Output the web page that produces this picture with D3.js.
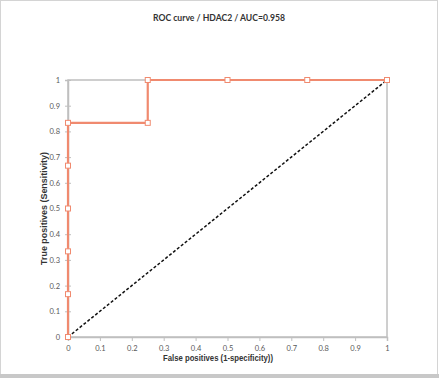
<!DOCTYPE html>
<html><head><meta charset="utf-8">
<script src="https://cdn.jsdelivr.net/npm/d3@7"></script>
<style>body{margin:0;background:#fff}svg{display:block}</style>
</head><body>
<svg id="c" width="439" height="378"></svg>
<script>
const fpr = [0, 0, 0, 0, 0, 0, 0.25, 0.25, 0.5, 0.75, 1];
const tpr = [0, 0.1667, 0.3333, 0.5, 0.6667, 0.8333, 0.8333, 1, 1, 1, 1];
const diagX = [0, 1];
const diagY = [0, 1];
const xTicks = [0, 0.1, 0.2, 0.3, 0.4, 0.5, 0.6, 0.7, 0.8, 0.9, 1];
const yTicks = [0, 0.1, 0.2, 0.3, 0.4, 0.5, 0.6, 0.7, 0.8, 0.9, 1];
const title = "ROC curve / HDAC2 / AUC=0.958";
const xTitle = "False positives (1-specificity))";
const yTitle = "True positives  (Sensitivity)";

const svg = d3.select("#c");
svg.append("rect").attr("x",0.5).attr("y",0.5).attr("width",437).attr("height",374)
  .attr("fill","#fff").attr("stroke","#d4d4d4");
svg.append("rect").attr("x",0).attr("y",374).attr("width",439).attr("height",4).attr("fill","#c8c8c8");

const L=68, R=387, T=80, B=337;
const x = d3.scaleLinear().domain([0,1]).range([L,R]);
const y = d3.scaleLinear().domain([0,1]).range([B,T]);
const fmt = d => d===0?"0":(d===1?"1":d3.format(".1f")(d));

svg.append("rect").attr("x",L).attr("y",T).attr("width",R-L).attr("height",B-T)
  .attr("fill","none").attr("stroke","#bfbfbf").attr("stroke-width",1.5);

const xa = svg.append("g").attr("transform",`translate(0,${B})`)
  .call(d3.axisBottom(x).tickValues(xTicks).tickFormat(fmt).tickSize(4).tickPadding(5));
const ya = svg.append("g").attr("transform",`translate(${L},0)`)
  .call(d3.axisLeft(y).tickValues(yTicks).tickFormat(fmt).tickSize(3).tickPadding(5));
[xa,ya].forEach(a=>{
  a.select(".domain").attr("stroke","#bfbfbf").attr("stroke-width",1.5);
  a.selectAll(".tick line").attr("stroke","#bfbfbf");
  a.selectAll("text").attr("fill","#595959").attr("font-family","Lato, sans-serif").attr("font-size",7.5);
});
ya.selectAll(".tick line").attr("x2",3).attr("x1",-3);

const pts = diagX.map((d,i)=>[d,diagY[i]]);
svg.append("path").attr("d",d3.line().x(d=>x(d[0])).y(d=>y(d[1]))(pts))
  .attr("stroke","#111").attr("stroke-width",1.5).attr("stroke-dasharray","3,2").attr("fill","none");

const roc = fpr.map((d,i)=>[d,tpr[i]]);
svg.append("path").attr("d",d3.line().x(d=>x(d[0])).y(d=>y(d[1]))(roc))
  .attr("stroke","#f08a6f").attr("stroke-width",2.2).attr("fill","none");
svg.selectAll("rect.m").data(roc).enter().append("rect").attr("class","m")
  .attr("x",d=>x(d[0])-2.5).attr("y",d=>y(d[1])-2.5).attr("width",5).attr("height",5)
  .attr("fill","#fff").attr("stroke","#f08a6f").attr("stroke-width",1);

svg.append("text").attr("x",219).attr("y",21).attr("text-anchor","middle")
  .attr("font-family","Lato, sans-serif").attr("font-weight","bold").attr("font-size",9.5)
  .attr("textLength",132).attr("lengthAdjust","spacingAndGlyphs")
  .attr("fill","#333").text(title);
svg.append("text").attr("x",218).attr("y",361).attr("text-anchor","middle")
  .attr("font-family","Liberation Sans, Arial, sans-serif").attr("font-weight","bold").attr("font-size",8.5)
  .attr("textLength",110).attr("lengthAdjust","spacingAndGlyphs")
  .attr("fill","#333").text(xTitle);
svg.append("text").attr("transform",`translate(47,${(T+B)/2}) rotate(-90)`).attr("text-anchor","middle")
  .attr("font-family","Liberation Sans, Arial, sans-serif").attr("font-weight","bold").attr("font-size",8.5)
  .attr("textLength",113).attr("lengthAdjust","spacingAndGlyphs")
  .attr("fill","#333").text(yTitle);
</script>
</body></html>
